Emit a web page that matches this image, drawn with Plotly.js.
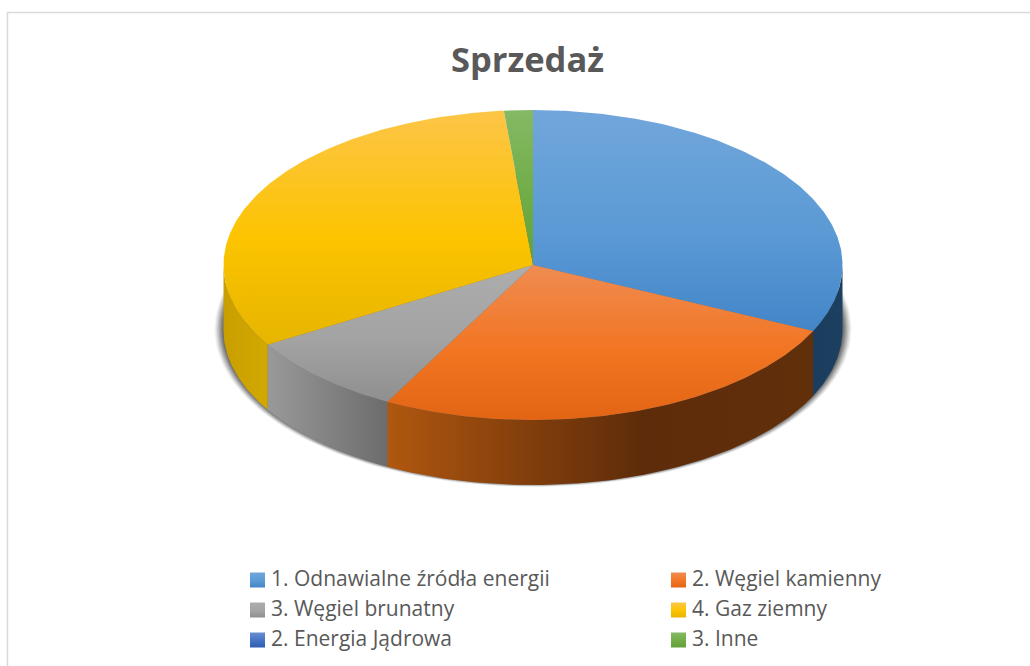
<!DOCTYPE html>
<html>
<head>
<meta charset="utf-8">
<script src="https://cdn.plot.ly/plotly-3.0.1.min.js"></script>
<style>html,body{margin:0;padding:0;background:#fff}#c{width:1030px;height:666px}</style>
</head>
<body>
<div id="c"></div>
<script>
// Data
const chartTitle = 'Sprzedaż';
const categories = ['1. Odnawialne źródła energii', '2. Węgiel kamienny', '3. Węgiel brunatny', '4. Gaz ziemny', '2. Energia Jądrowa', '3. Inne'];
const sales = [32.0, 25.8, 8.6, 32.1, 0, 1.5];

// Colours per category: top-face gradient stops, wall gradient stops
const topColors = [
  ['#71a6db', '#5b9ad5', '#4385c8'],
  ['#ef8c52', '#f27522', '#e26514'],
  ['#adadad', '#a3a3a3', '#8f8f8f'],
  ['#fdc547', '#fcc400', '#e6b500'],
  ['#6a8fd0', '#4472c4', '#2f5eb0'],
  ['#85b965', '#70ad47', '#62a03a']
];
const wallColors = [
  [[0, '#1b3d5d'], [1, '#1d3f60']],
  [[0, '#b0570f'], [0.36, '#7e3c0c'], [0.6, '#5e2c0a'], [1, '#622f0b']],
  [[0, '#999999'], [1, '#6c6c6c']],
  [[0, '#c89f00'], [1, '#d2a800']],
  [[0, '#264478'], [1, '#264478']],
  [[0, '#43682b'], [1, '#43682b']]
];

// Drawing geometry in pixel-scaled axes
const W = 1030, H = 666;
const cx = 533, cy = 265, rx = 309.5, ry = 155, depth = 65;
const rad = d => d * Math.PI / 180;
const ex = (d) => cx + rx * Math.sin(rad(d));
const ey = (d, off) => cy + off - ry * Math.cos(rad(d));

function arc(a, b, off) {
  const xs = [], ys = [], n = Math.max(2, Math.ceil(Math.abs(b - a) * 1.5));
  for (let i = 0; i <= n; i++) {
    const d = a + (b - a) * i / n;
    xs.push(ex(d)); ys.push(ey(d, off));
  }
  return [xs, ys];
}

const traces = [];
const total = sales.reduce((s, v) => s + v, 0);

// soft shadow below the disc
for (let e = 9; e >= 0.5; e -= 1) {
  const xs = [], ys = [];
  for (let d = 0; d <= 360; d += 2) {
    xs.push(cx + (rx + e) * Math.sin(rad(d)));
    ys.push(cy + depth - 1 - (ry + e * 0.32) * Math.cos(rad(d)));
  }
  traces.push({type: 'scatter', mode: 'lines', x: xs, y: ys, fill: 'toself', line: {width: 0},
    fillcolor: 'rgba(40,40,40,' + (0.05 + (9 - e) * 0.016).toFixed(3) + ')', hoverinfo: 'skip', showlegend: false});
}

// slice angles
const spans = [];
let acc = 0;
sales.forEach(v => { const a = acc / total * 360; acc += v; spans.push([a, acc / total * 360]); });

// side walls
sales.forEach((v, i) => {
  if (v <= 0) return;
  const a = Math.max(spans[i][0], 90), b = Math.min(spans[i][1], 270);
  if (b <= a) return;
  const [tx, ty] = arc(a, b, 0), [bx, by] = arc(b, a, depth);
  traces.push({type: 'scatter', mode: 'lines', x: tx.concat(bx), y: ty.concat(by), fill: 'toself', line: {width: 0},
    fillgradient: {type: 'horizontal', colorscale: wallColors[i], start: Math.min(ex(a), ex(b)), stop: Math.max(ex(a), ex(b))},
    hoverinfo: 'skip', showlegend: false});
});

// top faces
sales.forEach((v, i) => {
  if (v <= 0) return;
  const [tx, ty] = arc(spans[i][0], spans[i][1], 0);
  const ys = ty.concat([cy]);
  traces.push({type: 'scatter', mode: 'lines', x: tx.concat([cx]), y: ys, fill: 'toself', line: {width: 0},
    fillgradient: {type: 'vertical',
      colorscale: [[0, topColors[i][0]], [0.55, topColors[i][1]], [1, topColors[i][2]]],
      start: Math.min(...ys), stop: Math.max(...ys)},
    name: categories[i], text: sales[i] + '%', hoverinfo: 'name+text', showlegend: false});
});

// legend block
const colX = [250, 671], textGap = 21, rowY = [580, 610, 640], sw = 15;
categories.forEach((c, i) => {
  const col = i % 2, row = Math.floor(i / 2);
  const x0 = colX[col], y0 = rowY[row] - sw / 2;
  traces.push({type: 'scatter', mode: 'lines', x: [x0, x0 + sw, x0 + sw, x0, x0], y: [y0, y0, y0 + sw, y0 + sw, y0],
    fill: 'toself', line: {width: 0},
    fillgradient: {type: 'vertical', colorscale: [[0, topColors[i][0]], [0.55, topColors[i][1]], [1, topColors[i][2]]], start: y0, stop: y0 + sw},
    hoverinfo: 'skip', showlegend: false});
  traces.push({type: 'scatter', mode: 'text', x: [x0 + textGap], y: [rowY[row] + 1], text: [c], textposition: 'middle right',
    textfont: {family: 'Open Sans', size: 21, color: '#595959'}, hoverinfo: 'skip', showlegend: false});
});

const layout = {
  width: W, height: H,
  margin: {l: 0, r: 0, t: 0, b: 0},
  paper_bgcolor: '#fff', plot_bgcolor: '#fff',
  showlegend: false,
  title: {text: '<b>' + chartTitle + '</b>', x: 527.5 / W, xanchor: 'center', y: 1 - 60 / H, yanchor: 'middle',
    font: {family: 'Open Sans', size: 34.5, color: '#595959'}},
  xaxis: {range: [0, W], visible: false, fixedrange: true},
  yaxis: {range: [H, 0], visible: false, fixedrange: true},
  shapes: [{type: 'rect', xref: 'x', yref: 'y', x0: 7.5, y0: 12.5, x1: 1060, y1: 720, line: {color: '#d9d9d9', width: 1.5}, layer: 'below'}]
};
Plotly.newPlot('c', traces, layout, {displayModeBar: false, responsive: false});
</script>
</body>
</html>
